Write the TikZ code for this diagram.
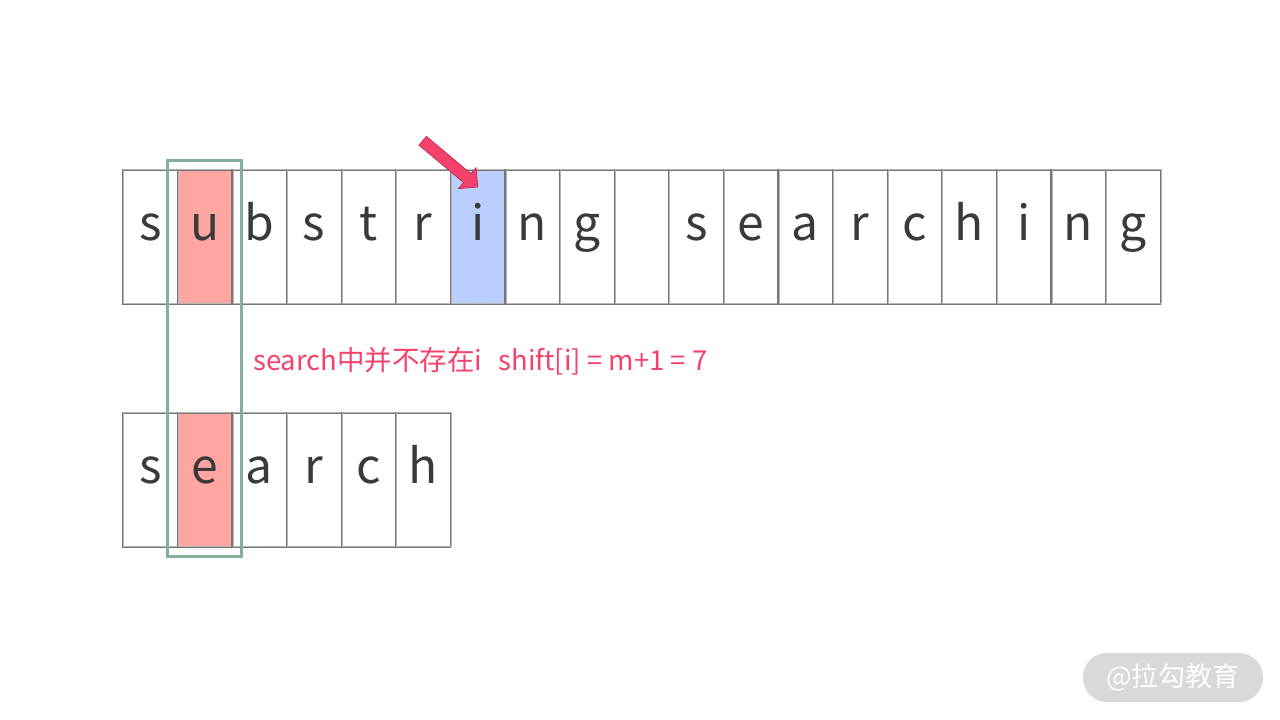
\documentclass[tikz,border=0pt]{standalone}
\usepackage{fontspec}
\setmainfont{Noto Sans CJK SC}
\usetikzlibrary{positioning,fit,shapes.arrows}
\definecolor{cellline}{HTML}{777777}
\definecolor{cellshade}{HTML}{B5B5B5}
\definecolor{letter}{HTML}{3A3A3A}
\definecolor{hitred}{HTML}{FFA6A3}
\definecolor{hitblue}{HTML}{BBCFFF}
\definecolor{frame}{HTML}{82B09A}
\definecolor{note}{HTML}{F5426C}
\definecolor{mark}{HTML}{B22A45}
\definecolor{badge}{HTML}{D9D9D9}
\tikzset{
  cell/.style={draw=cellline, line width=1.5pt, minimum width=54.6pt,
    minimum height=134pt, inner sep=0pt, text=letter,
    font=\fontsize{48}{48}\selectfont, text height=25pt, text depth=19pt,
    postaction={draw=cellshade, line width=1pt, transform canvas={shift={(0.8pt,1pt)}}}},
  redcell/.style={cell, fill=hitred},
  bluecell/.style={cell, fill=hitblue},
}
\begin{document}
\begin{tikzpicture}[x=1pt, y=-1pt]
  \useasboundingbox (0,0) rectangle (1280,720);
  % text row
  \foreach \ch [count=\i] in {s,u,b,s,t,r,i,n,g,{},s,e,a,r,c,h,i,n,g} {
    \ifnum\i=2 \def\kind{redcell}\else\ifnum\i=7 \def\kind{bluecell}\else\def\kind{cell}\fi\fi
    \node[\kind] (t\i) at ({123+54.6*(\i-0.5)},237) {\ch};
  }
  % pattern row
  \foreach \ch [count=\i] in {s,e,a,r,c,h} {
    \ifnum\i=2 \def\kind{redcell}\else\def\kind{cell}\fi
    \node[\kind] (p\i) at ({123+54.6*(\i-0.5)},480) {\ch};
  }
  % bad character window
  \node[draw=frame, line width=3pt, inner xsep=9pt, inner ysep=9pt,
    fit=(t2)(p2)] (window) {};
  \node[single arrow, fill=note, draw=mark, line width=0.6pt, rotate=-40,
    minimum height=72pt, minimum width=27pt, single arrow head extend=8pt,
    single arrow head indent=0pt, inner xsep=0pt, inner ysep=5.5pt]
    (pointer) at (448,162) {};
  \node[anchor=base west, text=note, inner sep=0pt,
    font=\fontsize{27.5}{27.5}\selectfont] (shift) at (253,370)
    {search中并不存在i\hspace{16pt}shift[i] = m+1 = 7};
  \node[fill=badge, rounded corners=24pt, minimum width=180pt,
    minimum height=49pt, text=white, font=\fontsize{27}{27}\selectfont]
    (logo) at (1173,677.5) {@拉勾教育};
\end{tikzpicture}
\end{document}
